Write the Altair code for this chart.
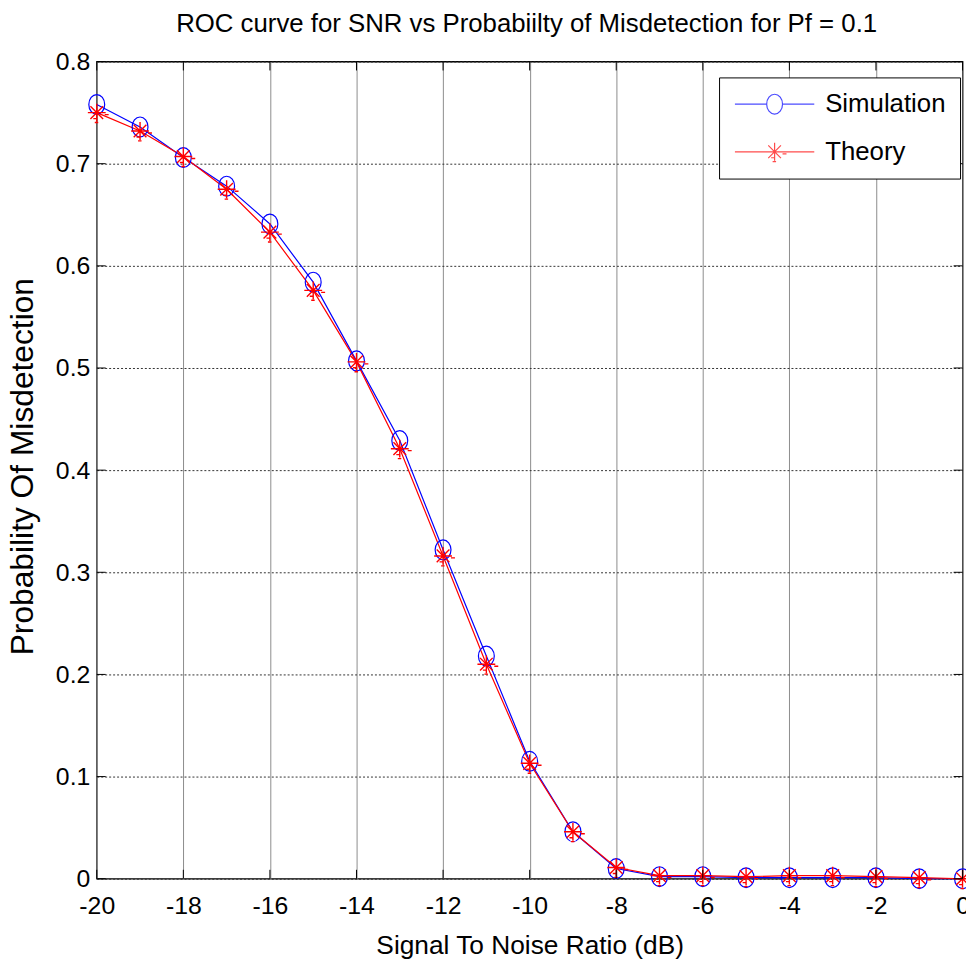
import altair as alt
import pandas as pd

# ---------------- data ----------------
snr = list(range(-20, 1))
simulation = [0.758, 0.736, 0.706, 0.678, 0.641, 0.584, 0.507, 0.429, 0.322, 0.218,
              0.115, 0.046, 0.010, 0.002, 0.002, 0.001, 0.001, 0.001, 0.001, 0.000, 0.000]
theory = [0.750, 0.732, 0.707, 0.675, 0.633, 0.576, 0.506, 0.421, 0.316, 0.210,
          0.113, 0.046, 0.011, 0.003, 0.003, 0.002, 0.003, 0.003, 0.002, 0.001, 0.000]
x_ticks = list(range(-20, 1, 2))
y_ticks = [0, 0.1, 0.2, 0.3, 0.4, 0.5, 0.6, 0.7, 0.8]
series = ["Simulation", "Theory"]
colors = ["#0000FF", "#FF0000"]

df = pd.DataFrame({
    "snr": snr + snr,
    "pm": simulation + theory,
    "series": [series[0]] * len(snr) + [series[1]] * len(snr),
})
xt = pd.DataFrame({"snr": x_ticks})
yt = pd.DataFrame({"pm": y_ticks})

# ---------------- styling ----------------
W, H = 873, 824
FONT = "Liberation Sans, Arial"

ELLIPSE = ("M0.8,0C0.8,0.552,0.442,1,0,1C-0.442,1,-0.8,0.552,-0.8,0"
           "C-0.8,-0.552,-0.442,-1,0,-1C0.442,-1,0.8,-0.552,0.8,0Z")
STAR = ("M0,-0.9L0,0.9M-0.9,0L0.9,0M-0.64,-0.64L0.64,0.64M-0.64,0.64L0.64,-0.64"
        "M0.8,0.2L1.2,0.2M-0.35,0.6L0.05,0.6M-0.2,1L0.15,1")
LEG_SIM = "M-4,0L-0.8,0M0.8,0L4,0" + ELLIPSE
LEG_TH = "M-4,0L4,0" + STAR

x_scale = alt.Scale(domain=[-20, 0], nice=False, zero=False)
y_scale = alt.Scale(domain=[0, 0.8], nice=False, zero=False)

x_axis = alt.Axis(
    values=x_ticks, title="Signal To Noise Ratio (dB)",
    labelExpr="'' + datum.value",
    grid=True, gridColor="#8c8c8c", gridWidth=1,
    ticks=False, domain=False, labelFlush=False, labelOverlap=False, labelBound=False,
    labelFont=FONT, labelFontSize=25, labelColor="black", labelPadding=15,
    titleFont=FONT, titleFontSize=26.5, titleFontWeight="normal", titleColor="black",
    titleBaseline="alphabetic", titleY=75,
)
y_axis = alt.Axis(
    values=y_ticks, title="Probability Of Misdetection",
    labelExpr="datum.value == 0 ? '0' : format(datum.value, '.1f')",
    grid=True, gridColor="#333333", gridWidth=1, gridDash=[2, 2],
    ticks=False, domain=False, labelFlush=False, labelOverlap=False, labelBound=False,
    labelFont=FONT, labelFontSize=25, labelColor="black", labelPadding=7,
    titleFont=FONT, titleFontSize=32, titleFontWeight="normal", titleColor="black",
    titleBaseline="alphabetic", titleAngle=270, titleX=-64.5, titleY=408,
)

base = alt.Chart(df)

legend_params = dict(
    title=None, orient="none", legendX=627.5, legendY=16,
    fillColor="white", strokeColor="black", padding=14, cornerRadius=0,
    labelFont=FONT, labelFontSize=26, labelColor="black",
    symbolSize=400, symbolStrokeWidth=1.2, symbolOffset=29, labelOffset=38,
    rowPadding=22,
)


def xy():
    return dict(x=alt.X("snr:Q", scale=x_scale, axis=x_axis),
                y=alt.Y("pm:Q", scale=y_scale, axis=y_axis))


# empty layer that carries the legend (line + marker symbols)
legend_layer = base.transform_filter("false").mark_point(filled=False, size=400, strokeWidth=1.2).encode(
    **xy(),
    color=alt.Color("series:N", scale=alt.Scale(domain=series, range=colors),
                    legend=alt.Legend(**legend_params)),
    shape=alt.Shape("series:N", scale=alt.Scale(domain=series, range=[LEG_SIM, LEG_TH]),
                    legend=alt.Legend(**legend_params)),
)

sim_line = base.transform_filter(alt.datum.series == series[0]).mark_line(
    color=colors[0], strokeWidth=1.2).encode(**xy())
th_line = base.transform_filter(alt.datum.series == series[1]).mark_line(
    color=colors[1], strokeWidth=1.2).encode(**xy())
sim_pts = base.transform_filter(alt.datum.series == series[0]).mark_point(
    shape=ELLIPSE, size=400, filled=False, color=colors[0], strokeWidth=1.2, opacity=1).encode(**xy())
th_pts = base.transform_filter(alt.datum.series == series[1]).mark_point(
    shape=STAR, size=400, filled=False, color=colors[1], strokeWidth=1.4, opacity=1).encode(**xy())

# inner tick marks on all four sides
xt_bot = alt.Chart(xt).mark_rule(color="black", strokeWidth=1).encode(
    x=alt.X("snr:Q", scale=x_scale, axis=x_axis), y=alt.value(H), y2=alt.value(H - 9))
xt_top = alt.Chart(xt).mark_rule(color="black", strokeWidth=1).encode(
    x=alt.X("snr:Q", scale=x_scale, axis=x_axis), y=alt.value(0), y2=alt.value(9))
yt_left = alt.Chart(yt).mark_rule(color="black", strokeWidth=1).encode(
    y=alt.Y("pm:Q", scale=y_scale, axis=y_axis), x=alt.value(0), x2=alt.value(9))
yt_right = alt.Chart(yt).mark_rule(color="black", strokeWidth=1).encode(
    y=alt.Y("pm:Q", scale=y_scale, axis=y_axis), x=alt.value(W), x2=alt.value(W - 9))

chart = alt.layer(
    legend_layer, sim_line, th_line, sim_pts, th_pts, xt_bot, xt_top, yt_left, yt_right
).properties(
    width=W, height=H,
    title=alt.TitleParams(
        text="ROC curve for SNR vs Probabiilty of Misdetection for Pf = 0.1",
        font=FONT, fontSize=26, fontWeight="normal", color="black",
        anchor="middle", frame="group", baseline="alphabetic", offset=25, dx=-3, dy=33,
    ),
    autosize=alt.AutoSizeParams(type="none"),
    padding={"left": 89.5, "top": 50, "right": 3.5, "bottom": 84},
    background="white",
).configure_view(
    stroke="black", strokeWidth=1.3
)

chart.save("out.html", embed_options={"renderer": "svg", "actions": False})
